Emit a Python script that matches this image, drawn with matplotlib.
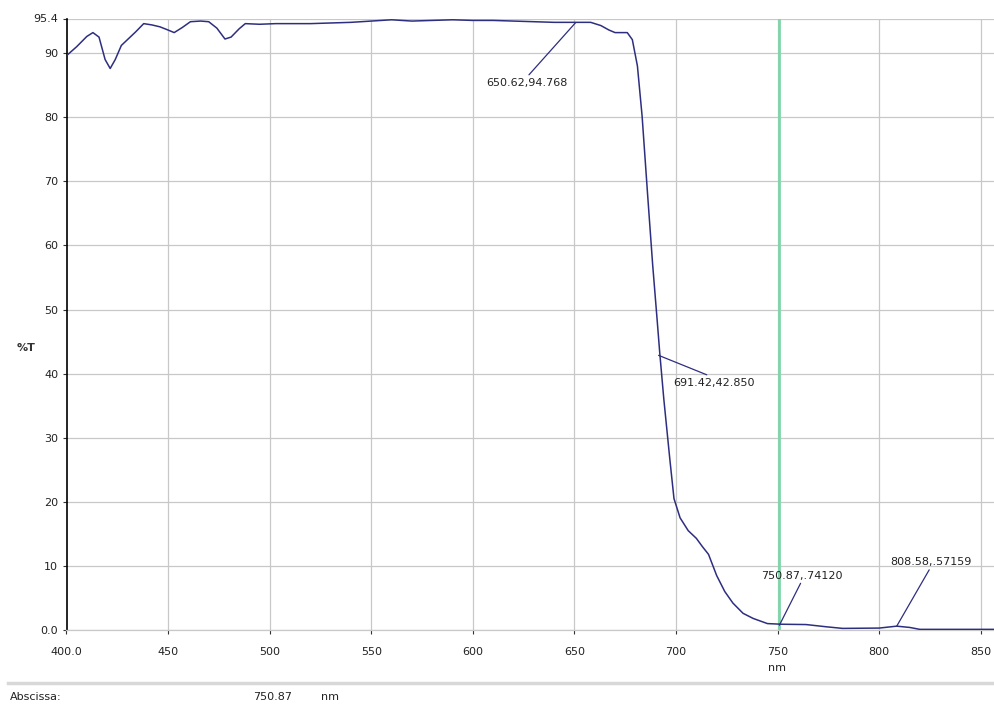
import matplotlib
matplotlib.use("Agg")
import matplotlib.pyplot as plt
import numpy as np

# ---- data ----
wavelength = [400, 405, 410, 413, 416, 419, 421.5, 424, 427, 431, 434, 438, 442, 446, 450,
              453, 457, 461, 466, 470, 474, 478, 481, 485, 488, 495, 503, 510, 520, 530,
              540, 550, 560, 570, 580, 590, 600, 610, 620, 630, 640, 650, 658, 663, 667,
              670, 676, 678.5, 681, 683.3, 686, 688.5, 690.7, 692, 694, 697, 699, 702,
              706, 710, 713, 716, 720, 724, 728, 733, 738, 745, 752, 764, 774, 782, 800,
              808.6, 815, 820, 857]
transmission = [89.6, 91.0, 92.6, 93.2, 92.5, 89.0, 87.6, 89.0, 91.2, 92.4, 93.3, 94.6, 94.4,
                94.1, 93.6, 93.2, 94.0, 94.9, 95.0, 94.9, 93.9, 92.2, 92.5, 93.8, 94.6, 94.5,
                94.6, 94.6, 94.6, 94.7, 94.8, 95.0, 95.2, 95.0, 95.1, 95.2, 95.1, 95.1, 95.0,
                94.9, 94.8, 94.8, 94.8, 94.3, 93.6, 93.2, 93.2, 92.1, 88.0, 80.2, 68.0, 57.0,
                48.4, 43.2, 36.0, 26.5, 20.5, 17.5, 15.5, 14.3, 13.0, 11.8, 8.5, 6.0, 4.2,
                2.6, 1.8, 1.0, 0.9, 0.85, 0.5, 0.25, 0.3, 0.6, 0.4, 0.1, 0.1]

xticks = [400, 450, 500, 550, 600, 650, 700, 750, 800, 850]
xticklabels = ["400.0", "450", "500", "550", "600", "650", "700", "750", "800", "850"]
yticks = [0, 10, 20, 30, 40, 50, 60, 70, 80, 90, 95.4]
yticklabels = ["0.0", "10", "20", "30", "40", "50", "60", "70", "80", "90", "95.4"]

cursor_x = 750.87
peaks = [
    # (x, y, label, text_x, text_y, relpos)
    (650.62, 94.768, "650.62,94.768", 626.4, 85.4, (0.5, 1.0)),
    (691.42, 42.850, "691.42,42.850", 718.5, 38.6, (0.5, 1.0)),
    (750.87, 0.74120, "750.87,.74120", 762.0, 8.5, (0.5, 0.0)),
    (808.58, 0.57159, "808.58,.57159", 825.4, 10.6, (0.5, 0.0)),
]

line_color = "#2e2e80"
grid_color = "#c8c8c8"
font = "DejaVu Sans"
fs = 8.0

fig = plt.figure(figsize=(9.95, 7.06), dpi=100)
fig.patch.set_facecolor("white")
W, H = 995, 706
left, right, top, bottom = 66.5, 995, 18.5, 630
ax = fig.add_axes([left / W, 1 - bottom / H, (right - left) / W, (bottom - top) / H])

ax.set_xlim(400, 857)
ax.set_ylim(0, 95.4)

ax.set_xticks(xticks)
ax.set_xticklabels(xticklabels, fontsize=fs, family=font, color="#222222")
ax.set_yticks(yticks)
ax.set_yticklabels(yticklabels, fontsize=fs, family=font, color="#222222")
ax.tick_params(axis="both", length=3, width=0.8, color="#333333", pad=3)
ax.tick_params(axis="x", pad=9)

ax.grid(True, color=grid_color, linewidth=0.9)
ax.set_axisbelow(True)
for s in ["top", "right"]:
    ax.spines[s].set_visible(False)
ax.spines["bottom"].set_color(grid_color)
ax.spines["bottom"].set_linewidth(0.9)
ax.spines["left"].set_color("black")
ax.spines["left"].set_linewidth(1.2)

ax.axvline(cursor_x, color="#7fd6a8", linewidth=2.0, zorder=2)
ax.plot(wavelength, transmission, color=line_color, linewidth=1.1, zorder=3)

for px, py, lab, tx, ty, rp in peaks:
    ax.annotate(lab, xy=(px, py), xytext=(tx, ty), textcoords="data",
                ha="center", va="center", fontsize=fs, family=font, color="#222222",
                arrowprops=dict(arrowstyle="-", color=line_color, lw=0.9,
                                shrinkA=0, shrinkB=0, relpos=rp),
                zorder=4)

fig.text(17 / W, 1 - 348 / H, "%T", fontsize=fs, family=font, fontweight="bold",
         color="#333333", ha="left", va="center")
fig.text(777 / W, 1 - 668 / H, "nm", fontsize=fs, family=font, color="#222222",
         ha="center", va="center")

# bottom status bar
fig.add_artist(plt.Line2D([8 / W, 1], [1 - 683 / H, 1 - 683 / H], color="#d8d8d8",
                          linewidth=2.5, transform=fig.transFigure))
fig.text(10 / W, 1 - 697 / H, "Abscissa:", fontsize=fs, family=font, color="#222222",
         ha="left", va="center")
fig.text(273 / W, 1 - 697 / H, "750.87", fontsize=fs, family=font, color="#222222",
         ha="center", va="center")
fig.text(330 / W, 1 - 697 / H, "nm", fontsize=fs, family=font, color="#222222",
         ha="center", va="center")

fig.savefig("out.png", dpi=100)
